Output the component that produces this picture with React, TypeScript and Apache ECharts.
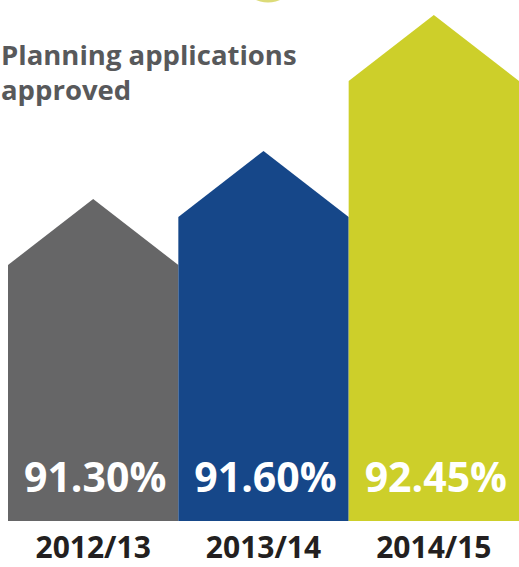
import React, { useEffect, useRef } from "react";
import * as echarts from "echarts";

const categories = ["2012/13", "2013/14", "2014/15"];
const values = [91.3, 91.6, 92.45];
const colors = ["#666667", "#164789", "#cdcf2a"];
const titleText = "Planning applications\napproved";

const Y_MIN = 89.7;
const Y_MAX = 92.9;
const ROOF = 66;

export default function App() {
  const ref = useRef<HTMLDivElement>(null);
  useEffect(() => {
    if (!ref.current) return;
    const chart = echarts.init(ref.current, null, { renderer: "svg" });
    const data = values.map((v, i) => [i, v]);
    chart.setOption({
      animation: false,
      backgroundColor: "#ffffff",
      title: {
        text: titleText,
        left: 1,
        top: 37,
        padding: 0,
        textStyle: {
          fontFamily: "Open Sans",
          fontWeight: "bold",
          fontSize: 27.5,
          lineHeight: 35,
          color: "#58595b",
        },
      },
      graphic: [
        {
          type: "circle",
          shape: { cx: 268, cy: -27.5, r: 30 },
          style: { fill: "#dcdb78" },
          silent: true,
        },
      ],
      grid: { left: 8, right: 0, top: 9, bottom: 46 },
      xAxis: {
        type: "category",
        data: categories,
        axisLine: { show: false },
        axisTick: { show: false },
        axisLabel: {
          margin: 12,
          lineHeight: 26,
          fontFamily: "Open Sans",
          fontWeight: "bold",
          fontSize: 30,
          color: "#231f20",
        },
      },
      yAxis: {
        type: "value",
        min: Y_MIN,
        max: Y_MAX,
        show: false,
        splitLine: { show: false },
      },
      series: [
        {
          type: "custom",
          clip: false,
          data,
          encode: { x: 0, y: 1 },
          renderItem: (params: any, api: any) => {
            const idx = api.value(0);
            const val = api.value(1);
            const top = api.coord([idx, val]);
            const base = api.coord([idx, Y_MIN]);
            const w = api.size([1, 0])[0];
            const cx = top[0];
            const l = cx - w / 2;
            const r = cx + w / 2;
            return {
              type: "group",
              children: [
                {
                  type: "polygon",
                  shape: {
                    points: [
                      [l, base[1]],
                      [l, top[1]],
                      [cx, top[1] - ROOF],
                      [r, top[1]],
                      [r, base[1]],
                    ],
                  },
                  style: { fill: colors[idx] },
                },
                {
                  type: "text",
                  style: {
                    text: values[idx].toFixed(2) + "%",
                    x: cx + 2,
                    y: base[1] - 45,
                    align: "center",
                    verticalAlign: "middle",
                    fill: "#ffffff",
                    fontFamily: "Open Sans",
                    fontWeight: "bold",
                    fontSize: 41,
                  },
                },
              ],
            };
          },
        },
      ],
    });
    return () => chart.dispose();
  }, []);
  return (
    <div
      ref={ref}
      style={{ position: "fixed", left: 0, top: 0, width: 519, height: 567 }}
    />
  );
}
